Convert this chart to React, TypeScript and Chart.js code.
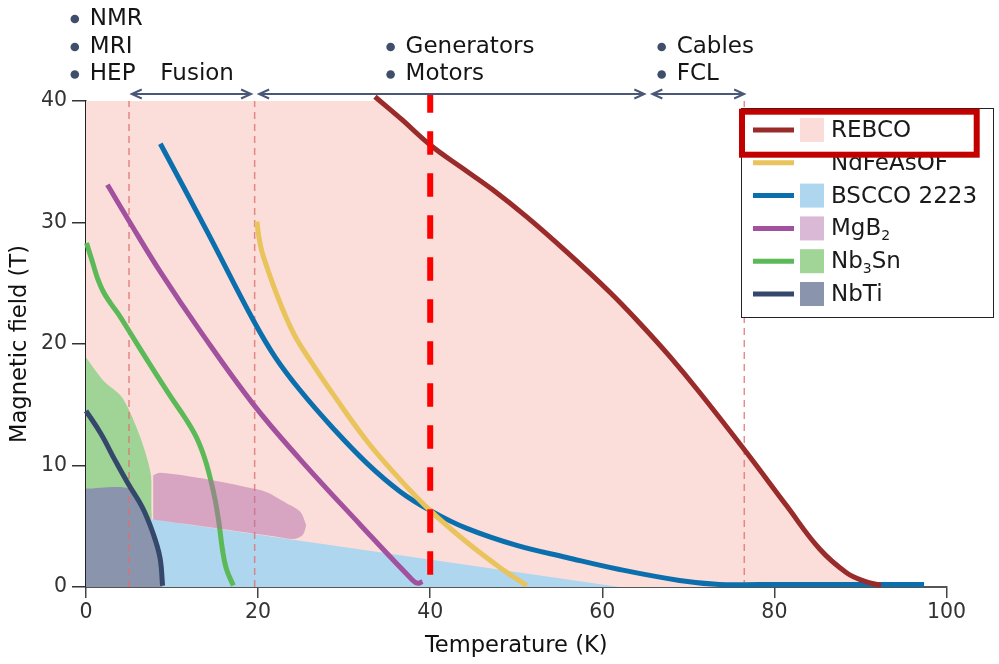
import React, { useEffect, useRef } from 'react';
import { Chart, registerables } from 'chart.js';

Chart.register(...registerables);

const FONT = '"DejaVu Sans", "Noto Sans", sans-serif';

// ---------- axes ----------
const xMin = 0;
const xMax = 100;
const xStep = 20;
const yMin = 0;
const yMax = 40;
const yStep = 10;
const xTitle = 'Temperature (K)';
const yTitle = 'Magnetic field (T)';

// ---------- critical-field curves: temperature (K) / field (T) ----------
const rebcoT = [33.58, 36.72, 39.97, 43.68, 47.27, 51.22, 55.86, 60.85, 64.33, 67.81, 71.29, 76.74, 81.38, 85.21, 88.34, 90.43, 92.4];
const rebcoB = [40.35, 38.46, 36.4, 34.5, 32.69, 30.46, 27.58, 24.28, 21.73, 19.0, 16.03, 11.09, 6.72, 3.17, 1.2, 0.49, 0.12];
const rebcoPlateauT = [0, 34];
const rebcoPlateauB = [40, 40];

const ndfeT = [19.86, 20.07, 20.42, 21.02, 21.75, 22.56, 23.49, 24.54, 26.04, 28.71, 32.66, 36.48, 39.97, 44.26, 48.09, 51.22];
const ndfeB = [30.07, 28.9, 27.66, 26.34, 24.86, 23.37, 21.81, 20.32, 18.67, 15.87, 12.0, 8.86, 6.31, 3.68, 1.61, 0.12];

const bsccoT = [8.64, 14.1, 19.43, 21.98, 24.88, 28.71, 32.66, 36.48, 39.97, 44.26, 50.06, 55.86, 62.01, 68.97, 73.61, 78.25, 97.39];
const bsccoB = [36.48, 29.23, 21.97, 18.92, 16.19, 13.07, 10.18, 7.87, 6.31, 4.82, 3.42, 2.43, 1.44, 0.54, 0.21, 0.21, 0.21];

const mgb2T = [2.49, 4.93, 8.64, 13.28, 19.43, 24.88, 31.84, 37.99, 38.6, 39.1];
const mgb2B = [33.1, 30.21, 25.93, 21.06, 15.05, 10.51, 5.15, 0.54, 0.3, 0.45];

const nb3snT = [0.06, 0.75, 1.33, 2.03, 2.84, 3.77, 4.93, 7.48, 9.8, 11.54, 12.82, 13.75, 14.44, 15.02, 15.49, 15.84, 16.3, 17.12];
const nb3snB = [28.32, 26.75, 25.43, 24.28, 23.37, 22.46, 21.15, 18.26, 15.71, 13.89, 12.33, 10.68, 8.95, 7.13, 5.07, 3.17, 1.52, 0.12];

const nbtiT = [0.0, 1.7, 3.4, 4.9, 6.55, 7.8, 8.6, 8.9];
const nbtiB = [14.5, 12.65, 10.4, 8.5, 6.55, 4.4, 2.4, 0.1];

// ---------- shaded regions ----------
const bsccoRegionT = [0, 62];
const bsccoRegionB = [6.35, 0];

const nb3snRegionT = [0, 2.0, 4.2, 6.0, 7.25, 7.8, 7.85, 7.6];
const nb3snRegionB = [18.9, 17.0, 15.6, 12.9, 10.2, 7.95, 6.3, 5.6];

const nbtiRegionT = [0, 5.0, 6.55, 7.8, 8.6, 8.9];
const nbtiRegionB = [8.1, 8.1, 6.55, 4.4, 2.4, 0];

const mgb2RegionTopT = [7.8, 8.6, 12.5, 16.4, 18.7, 21.0, 23.3, 24.9, 25.6];
const mgb2RegionTopB = [9.2, 9.4, 9.05, 8.55, 8.2, 7.8, 6.9, 6.2, 5.1];
const mgb2RegionBottomT = [7.8, 15.0, 22.0, 24.2, 25.2, 25.6];
const mgb2RegionBottomB = [5.55, 4.85, 4.15, 3.95, 4.3, 5.1];

// ---------- reference temperatures ----------
const refTemps = [5.0, 19.6, 76.5];
const refSpanB = [0, 40];
const highlightT = 40;
const highlightSpanB = [0, 40.6];

// ---------- legend ----------
const legendLabels = ['REBCO', 'NdFeAsOF', 'BSCCO 2223', 'MgB₂', 'Nb₃Sn', 'NbTi'];
const legendLineColors = ['#9a2b2b', '#e9c35b', '#0b6fad', '#a1519d', '#5cb957', '#35486b'];
const legendBoxColors = ['#fbdcd8', '', '#aed6ef', '#dab9d7', '#a1d597', '#8a94ac'];

// ---------- application annotations ----------
const appLabels = ['NMR', 'MRI', 'HEP', 'Fusion', 'Generators', 'Motors', 'Cables', 'FCL'];
const appAnchorT = [-1.3, -1.3, -1.3, 6.9, 35.4, 35.4, 66.9, 66.9];
const appRows = [0, 1, 2, 2, 1, 2, 1, 2];
const appBullets = [true, true, true, false, true, true, true, true];
const arrowStartT = [5.2, 20.0, 65.7];
const arrowEndT = [19.3, 65.0, 76.6];

const pts = (xs: number[], ys: number[]) => xs.map((x, i) => ({ x, y: ys[i] }));

const curve = (label: string, xs: number[], ys: number[], color: string, order: number, extra: any = {}) => ({
  label,
  data: pts(xs, ys),
  borderColor: color,
  borderWidth: 5,
  pointRadius: 0,
  fill: false,
  order,
  tension: 0.4,
  borderCapStyle: 'butt',
  clip: false,
  ...extra,
});

const region = (label: string, xs: number[], ys: number[], color: string, order: number, fill: any = 'origin', extra: any = {}) => ({
  label,
  data: pts(xs, ys),
  borderWidth: 0,
  borderColor: 'rgba(0,0,0,0)',
  backgroundColor: color,
  pointRadius: 0,
  fill,
  order,
  tension: 0.3,
  ...extra,
});

const SUB: Record<string, string> = { '₀': '0', '₁': '1', '₂': '2', '₃': '3', '₄': '4', '₅': '5', '₆': '6', '₇': '7', '₈': '8', '₉': '9' };

function drawRich(ctx: CanvasRenderingContext2D, text: string, x: number, y: number, size: number) {
  let cx = x;
  let buf = '';
  const flush = () => {
    if (!buf) return;
    ctx.font = `${size}px ${FONT}`;
    ctx.fillText(buf, cx, y);
    cx += ctx.measureText(buf).width;
    buf = '';
  };
  for (const ch of text) {
    if (SUB[ch]) {
      flush();
      const s = Math.round(size * 0.62);
      ctx.font = `${s}px ${FONT}`;
      ctx.fillText(SUB[ch], cx, y + size * 0.3);
      cx += ctx.measureText(SUB[ch]).width;
    } else {
      buf += ch;
    }
  }
  flush();
}

const overlayPlugin = {
  id: 'overlay',
  afterDraw(chart: any) {
    const { ctx, chartArea } = chart;
    const xs = chart.scales.x;
    ctx.save();

    // arrows
    const ay = chartArea.top - 7;
    ctx.strokeStyle = '#4a5877';
    ctx.lineWidth = 2;
    ctx.lineJoin = 'miter';
    for (let i = 0; i < arrowStartT.length; i++) {
      const x1 = xs.getPixelForValue(arrowStartT[i]);
      const x2 = xs.getPixelForValue(arrowEndT[i]);
      ctx.beginPath();
      ctx.moveTo(x1 + 1, ay);
      ctx.lineTo(x2 - 1, ay);
      ctx.stroke();
      ctx.beginPath();
      ctx.moveTo(x1 + 11, ay - 4.5);
      ctx.lineTo(x1 + 1, ay);
      ctx.lineTo(x1 + 11, ay + 4.5);
      ctx.stroke();
      ctx.beginPath();
      ctx.moveTo(x2 - 11, ay - 4.5);
      ctx.lineTo(x2 - 1, ay);
      ctx.lineTo(x2 - 11, ay + 4.5);
      ctx.stroke();
    }

    // application labels
    const rowY = [chartArea.top - 83, chartArea.top - 55, chartArea.top - 27.5];
    ctx.textBaseline = 'middle';
    ctx.textAlign = 'left';
    for (let i = 0; i < appLabels.length; i++) {
      const bx = xs.getPixelForValue(appAnchorT[i]);
      const y = rowY[appRows[i]];
      if (appBullets[i]) {
        ctx.fillStyle = '#3f4e6b';
        ctx.beginPath();
        ctx.arc(bx, y + 1, 4.3, 0, Math.PI * 2);
        ctx.fill();
      }
      ctx.fillStyle = '#151515';
      ctx.font = `23px ${FONT}`;
      ctx.fillText(appLabels[i], bx + 15, y + 1);
    }

    // legend
    const lx = 741, ly = 108, lw = 252, lh = 209;
    ctx.fillStyle = '#ffffff';
    ctx.fillRect(lx, ly, lw, lh);
    ctx.strokeStyle = '#222';
    ctx.lineWidth = 1;
    ctx.strokeRect(lx + 0.5, ly + 0.5, lw, lh);
    for (let i = 0; i < legendLabels.length; i++) {
      const y = 130 + i * 32.8;
      ctx.strokeStyle = legendLineColors[i];
      ctx.lineWidth = 5;
      ctx.lineCap = 'butt';
      ctx.beginPath();
      ctx.moveTo(753, y);
      ctx.lineTo(794, y);
      ctx.stroke();
      if (legendBoxColors[i]) {
        ctx.fillStyle = legendBoxColors[i];
        ctx.fillRect(800, y - 12, 24, 24);
      }
      ctx.fillStyle = '#1a1a1a';
      ctx.textBaseline = 'middle';
      drawRich(ctx, legendLabels[i], 831, y + 1, 23);
    }
    // highlight box round REBCO
    ctx.strokeStyle = '#c20000';
    ctx.lineWidth = 6;
    ctx.strokeRect(742, 111.7, 234.7, 43);

    ctx.restore();
  },
};

function buildDatasets() {
  const ds: any[] = [];
  ds.push(region('REBCO area', rebcoT, rebcoB, '#fbdeda', 100, 'origin', { tension: 0.4 }));
  ds.push(region('REBCO plateau', rebcoPlateauT, rebcoPlateauB, '#fbdeda', 99, 'origin', { tension: 0 }));
  ds.push(region('Nb3Sn area', nb3snRegionT, nb3snRegionB, '#a0d497', 90));
  ds.push(region('BSCCO area', bsccoRegionT, bsccoRegionB, '#aed6ef', 88, 'origin', { tension: 0 }));
  ds.push(region('NbTi area', nbtiRegionT, nbtiRegionB, '#8a94ac', 86));
  refTemps.forEach((t, i) => {
    ds.push({
      label: 'ref ' + i,
      data: pts([t, t], refSpanB),
      borderColor: 'rgba(224,112,112,0.8)',
      borderWidth: 1.5,
      borderDash: [7, 5],
      pointRadius: 0,
      fill: false,
      order: 80,
      clip: false,
    });
  });
  ds.push(curve('NbTi', nbtiT, nbtiB, legendLineColors[5], 30));
  ds.push(curve('Nb3Sn', nb3snT, nb3snB, legendLineColors[4], 32));
  ds.push(curve('MgB2', mgb2T, mgb2B, legendLineColors[3], 34));
  ds.push(curve('BSCCO 2223', bsccoT, bsccoB, legendLineColors[2], 38));
  ds.push(curve('NdFeAsOF', ndfeT, ndfeB, legendLineColors[1], 36));
  ds.push(curve('REBCO', rebcoT, rebcoB, legendLineColors[0], 25));
  ds.push(region('MgB2 area', mgb2RegionTopT, mgb2RegionTopB, 'rgba(180,108,168,0.5)', 20, '+1'));
  ds.push(region('MgB2 area base', mgb2RegionBottomT, mgb2RegionBottomB, 'rgba(0,0,0,0)', 21, false));
  ds.push({
    label: '40 K',
    data: pts([highlightT, highlightT], highlightSpanB),
    borderColor: '#ff0000',
    borderWidth: 6,
    borderDash: [23.6, 18.4],
    borderDashOffset: 29.8,
    pointRadius: 0,
    fill: false,
    order: 1,
    clip: false,
  });
  return ds;
}

export default function App() {
  const ref = useRef<HTMLCanvasElement>(null);
  useEffect(() => {
    const tickFont = { family: FONT, size: 20.5 };
    const titleFont = { family: FONT, size: 22.6 };
    const chart = new Chart(ref.current as HTMLCanvasElement, {
      type: 'line',
      data: { datasets: buildDatasets() },
      options: {
        responsive: false,
        devicePixelRatio: 1,
        animation: false,
        events: [],
        layout: { padding: { top: 101, right: 52.5, left: 0, bottom: 0 } },
        plugins: { legend: { display: false }, tooltip: { enabled: false } },
        scales: {
          x: {
            type: 'linear',
            min: xMin,
            max: xMax,
            ticks: { stepSize: xStep, color: '#333', font: tickFont, padding: 2 },
            grid: { display: true, drawOnChartArea: false, drawTicks: true, tickLength: 11, color: '#444', lineWidth: 1.5 },
            border: { display: true, color: '#555', width: 2 },
            title: { display: true, text: xTitle, color: '#111', font: titleFont, padding: { top: 0, bottom: 4.5 } },
            afterFit: (s: any) => { s.height = 77; },
          },
          y: {
            type: 'linear',
            min: yMin,
            max: yMax,
            ticks: { stepSize: yStep, color: '#333', font: tickFont, padding: 5 },
            grid: { display: true, drawOnChartArea: false, drawTicks: true, tickLength: 14, color: '#333', lineWidth: 1.5 },
            border: { display: true, color: '#222', width: 1.5 },
            title: { display: true, text: yTitle, color: '#111', font: titleFont, padding: { top: 7, bottom: 0 } },
            afterFit: (s: any) => { s.width = 86; },
          },
        },
      } as any,
      plugins: [overlayPlugin as any],
    });
    return () => chart.destroy();
  }, []);
  return (
    <div style={{ position: 'absolute', left: 0, top: 0, width: 999, height: 664, background: '#fff' }}>
      <canvas ref={ref} width={999} height={664} style={{ display: 'block', width: 999, height: 664 }} />
    </div>
  );
}
